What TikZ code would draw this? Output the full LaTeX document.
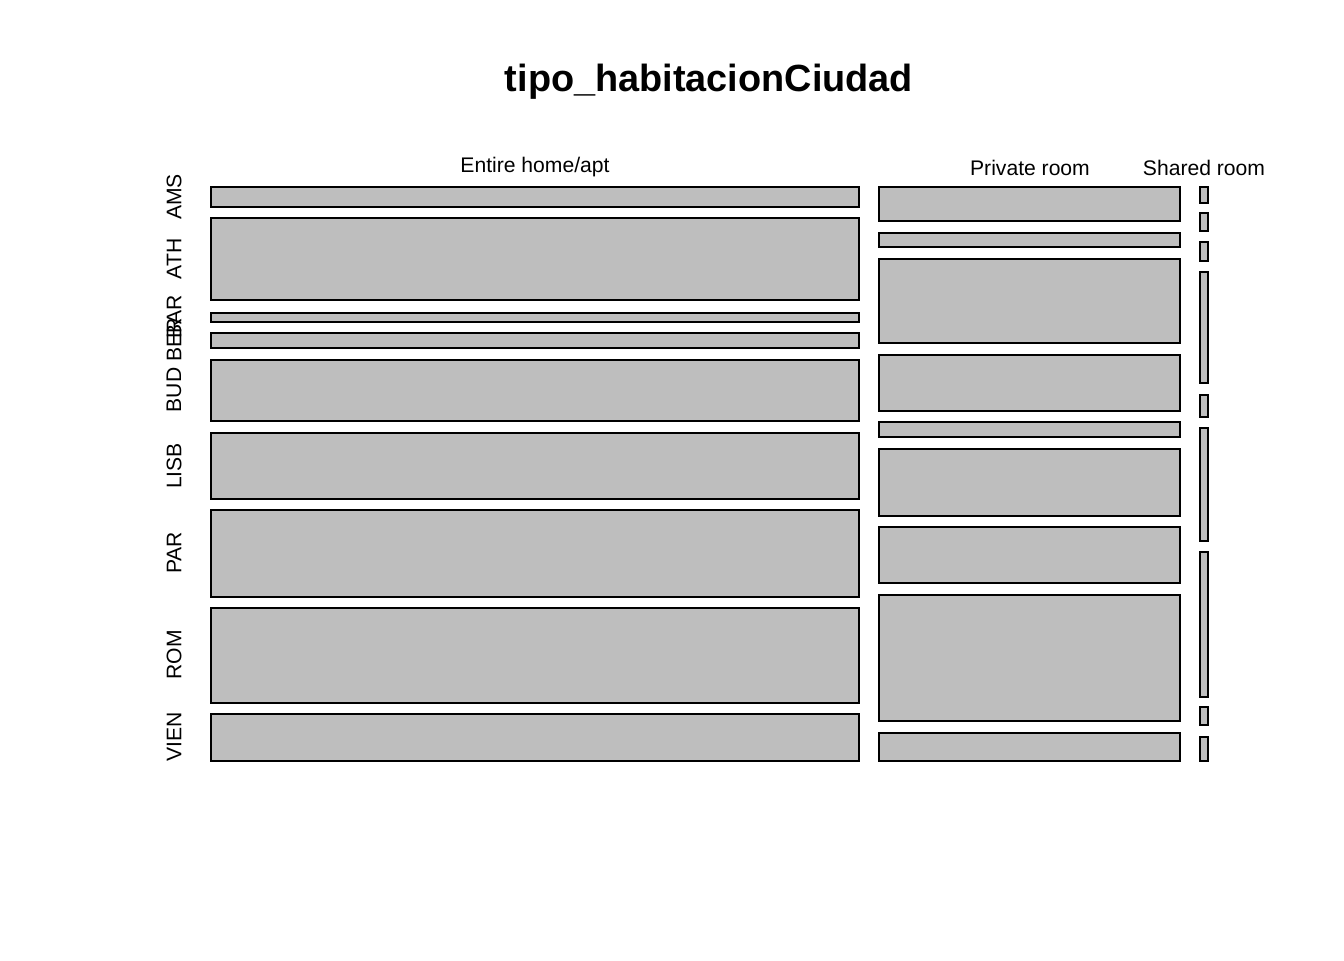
\documentclass[tikz,border=0pt]{standalone}
\usepackage{fontspec}
\setmainfont{Liberation Sans}
\usetikzlibrary{positioning}

\begin{document}
\begin{tikzpicture}[x=0.375pt,y=-0.375pt,
                    cell/.style={fill=cellgray,
                                 draw=black,
                                 line width=0.75pt
                                },
                    collabel/.style={font=\fontsize{7.92}{9}\selectfont,
                                     inner sep=0
                                    },
                    rowlabel/.style={font=\fontsize{7.92}{9}\selectfont,
                                     rotate=90,inner sep=0
                                    }
                   ]
\definecolor{cellgray}{HTML}{BEBEBE}
\useasboundingbox (0,0) rectangle (1344,960);
\node[font=\bfseries\fontsize{14.2}{17}\selectfont] (title) at (709,82) {tipo\_habitacionCiudad};
% column labels
\node[collabel] (entire) at (535,167) {Entire home/apt};
\node[collabel] (private) at (1030,168) {Private room};
\node[collabel] (shared) at (1204,168) {Shared room};
% Entire home/apt
\foreach \t/\b in {187/207,218/300,313/322,333/348,360/421,433/499,510/597,608/703,714/761}
  \draw[cell] (211,\t) rectangle (859,\b);
% Private room
\foreach \t/\b in {187/221,233/247,259/343,355/411,422/437,449/516,527/583,595/721,733/761}
  \draw[cell] (879,\t) rectangle (1180,\b);
% Shared room
\foreach \t/\b in {187/203,213/231,242/261,272/383,395/417,428/541,552/697,707/725,737/761}
  \draw[cell] (1200,\t) rectangle (1208,\b);
% row labels
\foreach \name/\y in {AMS/197,ATH/259,BAR/317,BER/340,BUD/390,LISB/466,PAR/553,ROM/655,VIEN/737}
  \node[rowlabel] (\name) at (174,\y) {\name};
\end{tikzpicture}
\end{document}
